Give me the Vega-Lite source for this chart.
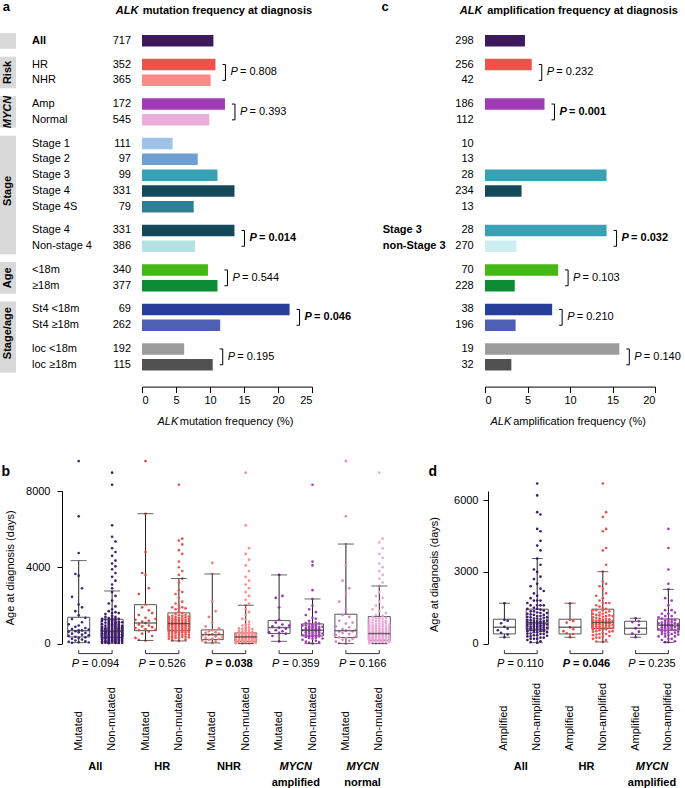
{
"$schema":"https://vega.github.io/schema/vega-lite/v6.json",
"background":"white",
"padding":{"left":0,"top":0,"right":0,"bottom":0},
"spacing":32,
"bounds":"full",
"resolve":{"scale":{"color":"independent"}},
"config":{"view":{"stroke":null},"font":"Liberation Sans",
"axis":{"labelFont":"Liberation Sans","titleFont":"Liberation Sans","labelFontSize":11,"titleFontSize":11,"labelColor":"#000","titleColor":"#000","domainColor":"#000","tickColor":"#000","grid":false,"titleFontWeight":"normal"},
"text":{"font":"Liberation Sans","fontSize":11,"color":"#000"}},
"datasets":{
"gray":[{"grp":"","from":"_0","to":"_2","mid":"r01"},{"grp":"Risk","from":"_3","to":"_7","mid":"_5"},{"grp":"MYCN","from":"_8","to":"_12","mid":"_10"},{"grp":"Stage","from":"_13","to":"_28","mid":"r09"},{"grp":"Age","from":"_29","to":"_33","mid":"_31"},{"grp":"Stage/age","from":"_34","to":"_43","mid":"_38"}],
"rows_a":[{"k":"r01","name":"All","n":717,"f":10.5},
{"k":"r02","name":"HR","n":352,"f":10.8,"pair":"risk","to":"r03","p":0.808,"sig":0},
{"k":"r03","name":"NHR","n":365,"f":10.1,"pair":"risk"},
{"k":"r04","name":"Amp","n":172,"f":12.2,"pair":"mycn","to":"r05","p":0.393,"sig":0},
{"k":"r05","name":"Normal","n":545,"f":9.9,"pair":"mycn"},
{"k":"r06","name":"Stage 1","n":111,"f":4.5},
{"k":"r07","name":"Stage 2","n":97,"f":8.2},
{"k":"r08","name":"Stage 3","n":99,"f":11.1},
{"k":"r09","name":"Stage 4","n":331,"f":13.6},
{"k":"r10","name":"Stage 4S","n":79,"f":7.6},
{"k":"r11","name":"Stage 4","n":331,"f":13.6,"pair":"st4","to":"r12","p":0.014,"sig":1},
{"k":"r12","name":"Non-stage 4","n":386,"f":7.8,"pair":"st4"},
{"k":"r13","name":"<18m","n":340,"f":9.7,"pair":"age","to":"r14","p":0.544,"sig":0},
{"k":"r14","name":"≥18m","n":377,"f":11.1,"pair":"age"},
{"k":"r15","name":"St4 <18m","n":69,"f":21.7,"pair":"st4age","to":"r16","p":0.046,"sig":1},
{"k":"r16","name":"St4 ≥18m","n":262,"f":11.5,"pair":"st4age"},
{"k":"r17","name":"loc <18m","n":192,"f":6.2,"pair":"loc","to":"r18","p":0.195,"sig":0},
{"k":"r18","name":"loc ≥18m","n":115,"f":10.4,"pair":"loc"}],
"rows_c":[{"k":"r01","name":"","n":298,"f":4.7},
{"k":"r02","name":"","n":256,"f":5.5,"pair":"risk","to":"r03","p":0.232,"sig":0},
{"k":"r03","name":"","n":42,"f":0,"pair":"risk"},
{"k":"r04","name":"","n":186,"f":7.0,"pair":"mycn","to":"r05","p":0.001,"sig":1},
{"k":"r05","name":"","n":112,"f":0,"pair":"mycn"},
{"k":"r06","name":"","n":10,"f":0},
{"k":"r07","name":"","n":13,"f":0},
{"k":"r08","name":"","n":28,"f":14.3},
{"k":"r09","name":"","n":234,"f":4.3},
{"k":"r10","name":"","n":13,"f":0},
{"k":"r11","name":"Stage 3","n":28,"f":14.3,"pair":"s3","to":"r12","p":0.032,"sig":1},
{"k":"r12","name":"non-Stage 3","n":270,"f":3.7,"pair":"s3"},
{"k":"r13","name":"","n":70,"f":8.6,"pair":"age","to":"r14","p":0.103,"sig":0},
{"k":"r14","name":"","n":228,"f":3.5,"pair":"age"},
{"k":"r15","name":"","n":38,"f":7.9,"pair":"st4age","to":"r16","p":0.210,"sig":0},
{"k":"r16","name":"","n":196,"f":3.6,"pair":"st4age"},
{"k":"r17","name":"","n":19,"f":15.8,"pair":"loc","to":"r18","p":0.140,"sig":0},
{"k":"r18","name":"","n":32,"f":3.1,"pair":"loc"}],
"box_b":[{"k":"AM","lo":50,"q1":350,"med":680,"q3":1380,"hi":4350},
{"k":"AN","lo":20,"q1":330,"med":650,"q3":1275,"hi":2760},
{"k":"HM","lo":160,"q1":680,"med":1080,"q3":2040,"hi":6810},
{"k":"HN","lo":140,"q1":680,"med":1050,"q3":1610,"hi":3410},
{"k":"NM","lo":35,"q1":210,"med":470,"q3":720,"hi":3650},
{"k":"NN","lo":0,"q1":120,"med":350,"q3":560,"hi":2010},
{"k":"YM","lo":120,"q1":525,"med":840,"q3":1205,"hi":3600},
{"k":"YN","lo":0,"q1":400,"med":700,"q3":1030,"hi":2340},
{"k":"ZM","lo":0,"q1":315,"med":680,"q3":1540,"hi":5220},
{"k":"ZN","lo":0,"q1":175,"med":525,"q3":1415,"hi":3020}],
"cmp_b":[{"k1":"AM","k2":"AN","p":0.094,"sig":0,"g1":"All","g2":""},
{"k1":"HM","k2":"HN","p":0.526,"sig":0,"g1":"HR","g2":""},
{"k1":"NM","k2":"NN","p":0.038,"sig":1,"g1":"NHR","g2":""},
{"k1":"YM","k2":"YN","p":0.359,"sig":0,"g1":"MYCN","g2":"amplified"},
{"k1":"ZM","k2":"ZN","p":0.166,"sig":0,"g1":"MYCN","g2":"normal"}],
"box_d":[{"k":"AA","lo":265,"q1":405,"med":685,"q3":1020,"hi":1690},
{"k":"AN","lo":40,"q1":570,"med":865,"q3":1440,"hi":3560},
{"k":"HA","lo":265,"q1":405,"med":685,"q3":1020,"hi":1690},
{"k":"HN","lo":70,"q1":630,"med":880,"q3":1440,"hi":3010},
{"k":"YA","lo":265,"q1":390,"med":640,"q3":935,"hi":1060},
{"k":"YN","lo":55,"q1":560,"med":770,"q3":1030,"hi":2270}],
"cmp_d":[{"k1":"AA","k2":"AN","p":0.110,"sig":0,"g1":"All","g2":""},
{"k1":"HA","k2":"HN","p":0.046,"sig":1,"g1":"HR","g2":""},
{"k1":"YA","k2":"YN","p":0.235,"sig":0,"g1":"MYCN","g2":"amplified"}],
"pts_b":[
{"k":"AM","l":1,"v":90},{"k":"AM","l":1,"v":410},{"k":"AM","l":1,"v":620},{"k":"AM","l":1,"v":1010},
{"k":"AM","l":2,"v":40},{"k":"AM","l":2,"v":250},{"k":"AM","l":2,"v":520},{"k":"AM","l":2,"v":760},{"k":"AM","l":2,"v":1290},{"k":"AM","l":2,"v":2450},
{"k":"AM","l":3,"v":160},{"k":"AM","l":3,"v":360},{"k":"AM","l":3,"v":650},{"k":"AM","l":3,"v":880},{"k":"AM","l":3,"v":1700},{"k":"AM","l":3,"v":3650},
{"k":"AM","l":4,"v":70},{"k":"AM","l":4,"v":300},{"k":"AM","l":4,"v":590},{"k":"AM","l":4,"v":700},{"k":"AM","l":4,"v":950},{"k":"AM","l":4,"v":1480},{"k":"AM","l":4,"v":2050},{"k":"AM","l":4,"v":3560},{"k":"AM","l":4,"v":4750},{"k":"AM","l":4,"v":6670},{"k":"AM","l":4,"v":9570},
{"k":"AM","l":5,"v":210},{"k":"AM","l":5,"v":470},{"k":"AM","l":5,"v":690},{"k":"AM","l":5,"v":1120},{"k":"AM","l":5,"v":1900},{"k":"AM","l":5,"v":2900},
{"k":"AM","l":6,"v":120},{"k":"AM","l":6,"v":330},{"k":"AM","l":6,"v":560},{"k":"AM","l":6,"v":820},{"k":"AM","l":6,"v":1350},
{"k":"AM","l":7,"v":60},{"k":"AM","l":7,"v":440},{"k":"AM","l":7,"v":730},
{"k":"AN","l":1,"v":30},{"k":"AN","l":1,"v":120},{"k":"AN","l":1,"v":210},{"k":"AN","l":1,"v":330},{"k":"AN","l":1,"v":420},{"k":"AN","l":1,"v":540},{"k":"AN","l":1,"v":640},{"k":"AN","l":1,"v":760},{"k":"AN","l":1,"v":880},{"k":"AN","l":1,"v":1020},{"k":"AN","l":1,"v":1180},
{"k":"AN","l":2,"v":60},{"k":"AN","l":2,"v":150},{"k":"AN","l":2,"v":250},{"k":"AN","l":2,"v":360},{"k":"AN","l":2,"v":470},{"k":"AN","l":2,"v":580},{"k":"AN","l":2,"v":690},{"k":"AN","l":2,"v":810},{"k":"AN","l":2,"v":940},{"k":"AN","l":2,"v":1100},{"k":"AN","l":2,"v":1260},{"k":"AN","l":2,"v":1550},
{"k":"AN","l":3,"v":20},{"k":"AN","l":3,"v":100},{"k":"AN","l":3,"v":190},{"k":"AN","l":3,"v":290},{"k":"AN","l":3,"v":390},{"k":"AN","l":3,"v":500},{"k":"AN","l":3,"v":610},{"k":"AN","l":3,"v":720},{"k":"AN","l":3,"v":850},{"k":"AN","l":3,"v":990},{"k":"AN","l":3,"v":1150},{"k":"AN","l":3,"v":1340},{"k":"AN","l":3,"v":1700},{"k":"AN","l":3,"v":2100},
{"k":"AN","l":4,"v":80},{"k":"AN","l":4,"v":170},{"k":"AN","l":4,"v":270},{"k":"AN","l":4,"v":370},{"k":"AN","l":4,"v":480},{"k":"AN","l":4,"v":600},{"k":"AN","l":4,"v":700},{"k":"AN","l":4,"v":820},{"k":"AN","l":4,"v":960},{"k":"AN","l":4,"v":1080},{"k":"AN","l":4,"v":1230},{"k":"AN","l":4,"v":1450},{"k":"AN","l":4,"v":1800},{"k":"AN","l":4,"v":2250},{"k":"AN","l":4,"v":2700},{"k":"AN","l":4,"v":2900},{"k":"AN","l":4,"v":3100},{"k":"AN","l":4,"v":3500},{"k":"AN","l":4,"v":3900},{"k":"AN","l":4,"v":4200},{"k":"AN","l":4,"v":4600},{"k":"AN","l":4,"v":5000},{"k":"AN","l":4,"v":5600},{"k":"AN","l":4,"v":6200},{"k":"AN","l":4,"v":8330},{"k":"AN","l":4,"v":8960},
{"k":"AN","l":5,"v":40},{"k":"AN","l":5,"v":140},{"k":"AN","l":5,"v":230},{"k":"AN","l":5,"v":340},{"k":"AN","l":5,"v":450},{"k":"AN","l":5,"v":560},{"k":"AN","l":5,"v":670},{"k":"AN","l":5,"v":790},{"k":"AN","l":5,"v":910},{"k":"AN","l":5,"v":1050},{"k":"AN","l":5,"v":1200},{"k":"AN","l":5,"v":1400},{"k":"AN","l":5,"v":1950},{"k":"AN","l":5,"v":2500},{"k":"AN","l":5,"v":3300},{"k":"AN","l":5,"v":3700},{"k":"AN","l":5,"v":4050},{"k":"AN","l":5,"v":4350},{"k":"AN","l":5,"v":4800},{"k":"AN","l":5,"v":5350},
{"k":"AN","l":6,"v":90},{"k":"AN","l":6,"v":180},{"k":"AN","l":6,"v":300},{"k":"AN","l":6,"v":400},{"k":"AN","l":6,"v":520},{"k":"AN","l":6,"v":630},{"k":"AN","l":6,"v":750},{"k":"AN","l":6,"v":870},{"k":"AN","l":6,"v":1000},{"k":"AN","l":6,"v":1160},{"k":"AN","l":6,"v":1300},{"k":"AN","l":6,"v":1600},
{"k":"AN","l":7,"v":50},{"k":"AN","l":7,"v":200},{"k":"AN","l":7,"v":350},{"k":"AN","l":7,"v":490},{"k":"AN","l":7,"v":620},{"k":"AN","l":7,"v":780},{"k":"AN","l":7,"v":930},{"k":"AN","l":7,"v":1120},
{"k":"AN","l":1,"v":80},{"k":"AN","l":1,"v":270},{"k":"AN","l":1,"v":480},{"k":"AN","l":1,"v":700},{"k":"AN","l":1,"v":820},{"k":"AN","l":1,"v":1300},
{"k":"AN","l":2,"v":100},{"k":"AN","l":2,"v":300},{"k":"AN","l":2,"v":420},{"k":"AN","l":2,"v":530},{"k":"AN","l":2,"v":640},{"k":"AN","l":2,"v":760},{"k":"AN","l":2,"v":1400},
{"k":"AN","l":3,"v":60},{"k":"AN","l":3,"v":150},{"k":"AN","l":3,"v":240},{"k":"AN","l":3,"v":340},{"k":"AN","l":3,"v":450},{"k":"AN","l":3,"v":560},{"k":"AN","l":3,"v":670},{"k":"AN","l":3,"v":790},{"k":"AN","l":3,"v":920},{"k":"AN","l":3,"v":1070},{"k":"AN","l":3,"v":1240},
{"k":"AN","l":4,"v":120},{"k":"AN","l":4,"v":220},{"k":"AN","l":4,"v":320},{"k":"AN","l":4,"v":430},{"k":"AN","l":4,"v":540},{"k":"AN","l":4,"v":650},{"k":"AN","l":4,"v":760},{"k":"AN","l":4,"v":890},{"k":"AN","l":4,"v":1020},{"k":"AN","l":4,"v":1160},{"k":"AN","l":4,"v":1330},{"k":"AN","l":4,"v":1600},
{"k":"AN","l":5,"v":90},{"k":"AN","l":5,"v":190},{"k":"AN","l":5,"v":290},{"k":"AN","l":5,"v":400},{"k":"AN","l":5,"v":510},{"k":"AN","l":5,"v":620},{"k":"AN","l":5,"v":730},{"k":"AN","l":5,"v":850},{"k":"AN","l":5,"v":980},{"k":"AN","l":5,"v":1120},{"k":"AN","l":5,"v":1300},{"k":"AN","l":5,"v":1650},
{"k":"AN","l":6,"v":30},{"k":"AN","l":6,"v":240},{"k":"AN","l":6,"v":350},{"k":"AN","l":6,"v":460},{"k":"AN","l":6,"v":580},{"k":"AN","l":6,"v":690},{"k":"AN","l":6,"v":810},{"k":"AN","l":6,"v":940},{"k":"AN","l":6,"v":1080},
{"k":"AN","l":7,"v":130},{"k":"AN","l":7,"v":280},{"k":"AN","l":7,"v":420},{"k":"AN","l":7,"v":560},{"k":"AN","l":7,"v":700},{"k":"AN","l":7,"v":860},
{"k":"HM","l":1,"v":300},{"k":"HM","l":1,"v":820},{"k":"HM","l":1,"v":1250},
{"k":"HM","l":2,"v":200},{"k":"HM","l":2,"v":700},{"k":"HM","l":2,"v":1000},{"k":"HM","l":2,"v":1500},{"k":"HM","l":2,"v":2600},
{"k":"HM","l":3,"v":520},{"k":"HM","l":3,"v":900},{"k":"HM","l":3,"v":1150},{"k":"HM","l":3,"v":1900},{"k":"HM","l":3,"v":3700},
{"k":"HM","l":4,"v":160},{"k":"HM","l":4,"v":760},{"k":"HM","l":4,"v":1080},{"k":"HM","l":4,"v":1350},{"k":"HM","l":4,"v":2050},{"k":"HM","l":4,"v":3600},{"k":"HM","l":4,"v":4800},{"k":"HM","l":4,"v":6810},{"k":"HM","l":4,"v":9570},
{"k":"HM","l":5,"v":640},{"k":"HM","l":5,"v":950},{"k":"HM","l":5,"v":1200},{"k":"HM","l":5,"v":1750},{"k":"HM","l":5,"v":2900},
{"k":"HM","l":6,"v":400},{"k":"HM","l":6,"v":860},{"k":"HM","l":6,"v":1600},
{"k":"HM","l":7,"v":720},{"k":"HM","l":7,"v":1300},
{"k":"HN","l":1,"v":250},{"k":"HN","l":1,"v":520},{"k":"HN","l":1,"v":740},{"k":"HN","l":1,"v":950},{"k":"HN","l":1,"v":1150},{"k":"HN","l":1,"v":1400},
{"k":"HN","l":2,"v":180},{"k":"HN","l":2,"v":400},{"k":"HN","l":2,"v":620},{"k":"HN","l":2,"v":830},{"k":"HN","l":2,"v":1020},{"k":"HN","l":2,"v":1220},{"k":"HN","l":2,"v":1460},{"k":"HN","l":2,"v":1900},
{"k":"HN","l":3,"v":300},{"k":"HN","l":3,"v":560},{"k":"HN","l":3,"v":700},{"k":"HN","l":3,"v":880},{"k":"HN","l":3,"v":1080},{"k":"HN","l":3,"v":1280},{"k":"HN","l":3,"v":1550},{"k":"HN","l":3,"v":2100},{"k":"HN","l":3,"v":2600},
{"k":"HN","l":4,"v":140},{"k":"HN","l":4,"v":460},{"k":"HN","l":4,"v":660},{"k":"HN","l":4,"v":780},{"k":"HN","l":4,"v":980},{"k":"HN","l":4,"v":1130},{"k":"HN","l":4,"v":1350},{"k":"HN","l":4,"v":1680},{"k":"HN","l":4,"v":2000},{"k":"HN","l":4,"v":2400},{"k":"HN","l":4,"v":2800},{"k":"HN","l":4,"v":3200},{"k":"HN","l":4,"v":3600},{"k":"HN","l":4,"v":4000},{"k":"HN","l":4,"v":4300},{"k":"HN","l":4,"v":4900},{"k":"HN","l":4,"v":5400},{"k":"HN","l":4,"v":8330},
{"k":"HN","l":5,"v":350},{"k":"HN","l":5,"v":590},{"k":"HN","l":5,"v":760},{"k":"HN","l":5,"v":920},{"k":"HN","l":5,"v":1100},{"k":"HN","l":5,"v":1320},{"k":"HN","l":5,"v":1600},{"k":"HN","l":5,"v":2200},{"k":"HN","l":5,"v":2700},{"k":"HN","l":5,"v":3410},{"k":"HN","l":5,"v":3800},{"k":"HN","l":5,"v":4700},{"k":"HN","l":5,"v":5200},{"k":"HN","l":5,"v":5500},
{"k":"HN","l":6,"v":220},{"k":"HN","l":6,"v":480},{"k":"HN","l":6,"v":690},{"k":"HN","l":6,"v":870},{"k":"HN","l":6,"v":1060},{"k":"HN","l":6,"v":1250},{"k":"HN","l":6,"v":1500},{"k":"HN","l":6,"v":1850},
{"k":"HN","l":7,"v":330},{"k":"HN","l":7,"v":610},{"k":"HN","l":7,"v":900},{"k":"HN","l":7,"v":1180},{"k":"HN","l":7,"v":1420},
{"k":"HN","l":1,"v":380},{"k":"HN","l":1,"v":640},{"k":"HN","l":1,"v":850},{"k":"HN","l":1,"v":1050},{"k":"HN","l":1,"v":1280},
{"k":"HN","l":2,"v":300},{"k":"HN","l":2,"v":520},{"k":"HN","l":2,"v":720},{"k":"HN","l":2,"v":930},{"k":"HN","l":2,"v":1120},{"k":"HN","l":2,"v":1330},
{"k":"HN","l":3,"v":420},{"k":"HN","l":3,"v":630},{"k":"HN","l":3,"v":790},{"k":"HN","l":3,"v":980},{"k":"HN","l":3,"v":1180},{"k":"HN","l":3,"v":1400},{"k":"HN","l":3,"v":1800},
{"k":"HN","l":4,"v":300},{"k":"HN","l":4,"v":560},{"k":"HN","l":4,"v":880},{"k":"HN","l":4,"v":1060},{"k":"HN","l":4,"v":1240},{"k":"HN","l":4,"v":1500},{"k":"HN","l":4,"v":1850},
{"k":"HN","l":5,"v":460},{"k":"HN","l":5,"v":680},{"k":"HN","l":5,"v":840},{"k":"HN","l":5,"v":1010},{"k":"HN","l":5,"v":1210},{"k":"HN","l":5,"v":1450},{"k":"HN","l":5,"v":1900},
{"k":"HN","l":6,"v":360},{"k":"HN","l":6,"v":590},{"k":"HN","l":6,"v":780},{"k":"HN","l":6,"v":960},{"k":"HN","l":6,"v":1150},{"k":"HN","l":6,"v":1380},
{"k":"HN","l":7,"v":470},{"k":"HN","l":7,"v":760},{"k":"HN","l":7,"v":1040},{"k":"HN","l":7,"v":1300},
{"k":"NM","l":1,"v":150},{"k":"NM","l":1,"v":420},
{"k":"NM","l":2,"v":80},{"k":"NM","l":2,"v":300},{"k":"NM","l":2,"v":560},{"k":"NM","l":2,"v":900},
{"k":"NM","l":3,"v":200},{"k":"NM","l":3,"v":460},{"k":"NM","l":3,"v":650},{"k":"NM","l":3,"v":1400},
{"k":"NM","l":4,"v":35},{"k":"NM","l":4,"v":260},{"k":"NM","l":4,"v":480},{"k":"NM","l":4,"v":700},{"k":"NM","l":4,"v":1100},{"k":"NM","l":4,"v":2200},{"k":"NM","l":4,"v":3650},{"k":"NM","l":4,"v":4230},
{"k":"NM","l":5,"v":120},{"k":"NM","l":5,"v":380},{"k":"NM","l":5,"v":600},{"k":"NM","l":5,"v":1700},
{"k":"NM","l":6,"v":240},{"k":"NM","l":6,"v":520},{"k":"NM","l":6,"v":800},
{"k":"NM","l":7,"v":330},
{"k":"NN","l":1,"v":20},{"k":"NN","l":1,"v":130},{"k":"NN","l":1,"v":250},{"k":"NN","l":1,"v":380},{"k":"NN","l":1,"v":520},
{"k":"NN","l":2,"v":60},{"k":"NN","l":2,"v":170},{"k":"NN","l":2,"v":290},{"k":"NN","l":2,"v":420},{"k":"NN","l":2,"v":580},{"k":"NN","l":2,"v":800},
{"k":"NN","l":3,"v":10},{"k":"NN","l":3,"v":110},{"k":"NN","l":3,"v":220},{"k":"NN","l":3,"v":340},{"k":"NN","l":3,"v":460},{"k":"NN","l":3,"v":640},{"k":"NN","l":3,"v":950},{"k":"NN","l":3,"v":1300},
{"k":"NN","l":4,"v":40},{"k":"NN","l":4,"v":150},{"k":"NN","l":4,"v":270},{"k":"NN","l":4,"v":360},{"k":"NN","l":4,"v":490},{"k":"NN","l":4,"v":700},{"k":"NN","l":4,"v":1000},{"k":"NN","l":4,"v":1250},{"k":"NN","l":4,"v":1500},{"k":"NN","l":4,"v":1800},{"k":"NN","l":4,"v":2010},{"k":"NN","l":4,"v":2300},{"k":"NN","l":4,"v":2700},{"k":"NN","l":4,"v":3100},{"k":"NN","l":4,"v":3500},{"k":"NN","l":4,"v":4100},{"k":"NN","l":4,"v":4700},{"k":"NN","l":4,"v":6200},{"k":"NN","l":4,"v":8960},
{"k":"NN","l":5,"v":80},{"k":"NN","l":5,"v":200},{"k":"NN","l":5,"v":310},{"k":"NN","l":5,"v":440},{"k":"NN","l":5,"v":600},{"k":"NN","l":5,"v":850},{"k":"NN","l":5,"v":1150},{"k":"NN","l":5,"v":1650},{"k":"NN","l":5,"v":2100},{"k":"NN","l":5,"v":2500},{"k":"NN","l":5,"v":2900},{"k":"NN","l":5,"v":3300},{"k":"NN","l":5,"v":3800},{"k":"NN","l":5,"v":4400},{"k":"NN","l":5,"v":5000},
{"k":"NN","l":6,"v":30},{"k":"NN","l":6,"v":140},{"k":"NN","l":6,"v":260},{"k":"NN","l":6,"v":400},{"k":"NN","l":6,"v":540},{"k":"NN","l":6,"v":760},
{"k":"NN","l":7,"v":90},{"k":"NN","l":7,"v":230},{"k":"NN","l":7,"v":350},{"k":"NN","l":7,"v":480},
{"k":"NN","l":1,"v":80},{"k":"NN","l":1,"v":190},{"k":"NN","l":1,"v":310},{"k":"NN","l":1,"v":450},
{"k":"NN","l":2,"v":110},{"k":"NN","l":2,"v":230},{"k":"NN","l":2,"v":350},{"k":"NN","l":2,"v":500},{"k":"NN","l":2,"v":680},
{"k":"NN","l":3,"v":50},{"k":"NN","l":3,"v":160},{"k":"NN","l":3,"v":280},{"k":"NN","l":3,"v":400},{"k":"NN","l":3,"v":540},{"k":"NN","l":3,"v":780},
{"k":"NN","l":4,"v":90},{"k":"NN","l":4,"v":210},{"k":"NN","l":4,"v":320},{"k":"NN","l":4,"v":430},{"k":"NN","l":4,"v":580},{"k":"NN","l":4,"v":850},
{"k":"NN","l":5,"v":20},{"k":"NN","l":5,"v":140},{"k":"NN","l":5,"v":260},{"k":"NN","l":5,"v":380},{"k":"NN","l":5,"v":520},{"k":"NN","l":5,"v":720},{"k":"NN","l":5,"v":1000},
{"k":"NN","l":6,"v":80},{"k":"NN","l":6,"v":200},{"k":"NN","l":6,"v":330},{"k":"NN","l":6,"v":470},{"k":"NN","l":6,"v":620},
{"k":"NN","l":7,"v":30},{"k":"NN","l":7,"v":160},{"k":"NN","l":7,"v":290},{"k":"NN","l":7,"v":420},
{"k":"YM","l":1,"v":600},
{"k":"YM","l":2,"v":400},{"k":"YM","l":2,"v":900},
{"k":"YM","l":3,"v":700},{"k":"YM","l":3,"v":1100},{"k":"YM","l":3,"v":2400},
{"k":"YM","l":4,"v":120},{"k":"YM","l":4,"v":560},{"k":"YM","l":4,"v":840},{"k":"YM","l":4,"v":1250},{"k":"YM","l":4,"v":1900},{"k":"YM","l":4,"v":3600},
{"k":"YM","l":5,"v":650},{"k":"YM","l":5,"v":1000},{"k":"YM","l":5,"v":2500},
{"k":"YM","l":6,"v":520},{"k":"YM","l":6,"v":780},
{"k":"YM","l":7,"v":950},
{"k":"YN","l":1,"v":200},{"k":"YN","l":1,"v":450},{"k":"YN","l":1,"v":700},{"k":"YN","l":1,"v":950},
{"k":"YN","l":2,"v":100},{"k":"YN","l":2,"v":350},{"k":"YN","l":2,"v":600},{"k":"YN","l":2,"v":820},{"k":"YN","l":2,"v":1080},{"k":"YN","l":2,"v":1500},
{"k":"YN","l":3,"v":50},{"k":"YN","l":3,"v":300},{"k":"YN","l":3,"v":520},{"k":"YN","l":3,"v":740},{"k":"YN","l":3,"v":900},{"k":"YN","l":3,"v":1200},{"k":"YN","l":3,"v":1800},
{"k":"YN","l":4,"v":10},{"k":"YN","l":4,"v":250},{"k":"YN","l":4,"v":480},{"k":"YN","l":4,"v":680},{"k":"YN","l":4,"v":860},{"k":"YN","l":4,"v":1000},{"k":"YN","l":4,"v":1350},{"k":"YN","l":4,"v":2000},{"k":"YN","l":4,"v":2340},{"k":"YN","l":4,"v":2800},{"k":"YN","l":4,"v":4100},{"k":"YN","l":4,"v":4300},{"k":"YN","l":4,"v":8330},
{"k":"YN","l":5,"v":150},{"k":"YN","l":5,"v":420},{"k":"YN","l":5,"v":640},{"k":"YN","l":5,"v":790},{"k":"YN","l":5,"v":960},{"k":"YN","l":5,"v":1300},{"k":"YN","l":5,"v":1650},
{"k":"YN","l":6,"v":80},{"k":"YN","l":6,"v":380},{"k":"YN","l":6,"v":580},{"k":"YN","l":6,"v":760},{"k":"YN","l":6,"v":1050},
{"k":"YN","l":7,"v":270},{"k":"YN","l":7,"v":530},{"k":"YN","l":7,"v":880},
{"k":"YN","l":2,"v":480},{"k":"YN","l":2,"v":720},{"k":"YN","l":2,"v":950},
{"k":"YN","l":3,"v":400},{"k":"YN","l":3,"v":620},{"k":"YN","l":3,"v":830},{"k":"YN","l":3,"v":1050},
{"k":"YN","l":4,"v":380},{"k":"YN","l":4,"v":580},{"k":"YN","l":4,"v":780},{"k":"YN","l":4,"v":930},
{"k":"YN","l":5,"v":300},{"k":"YN","l":5,"v":530},{"k":"YN","l":5,"v":720},{"k":"YN","l":5,"v":880},{"k":"YN","l":5,"v":1100},
{"k":"YN","l":6,"v":480},{"k":"YN","l":6,"v":680},{"k":"YN","l":6,"v":880},
{"k":"ZM","l":1,"v":100},{"k":"ZM","l":1,"v":450},{"k":"ZM","l":1,"v":900},
{"k":"ZM","l":2,"v":30},{"k":"ZM","l":2,"v":330},{"k":"ZM","l":2,"v":620},{"k":"ZM","l":2,"v":1200},{"k":"ZM","l":2,"v":2200},
{"k":"ZM","l":3,"v":200},{"k":"ZM","l":3,"v":560},{"k":"ZM","l":3,"v":760},{"k":"ZM","l":3,"v":1500},{"k":"ZM","l":3,"v":3300},
{"k":"ZM","l":4,"v":0},{"k":"ZM","l":4,"v":290},{"k":"ZM","l":4,"v":680},{"k":"ZM","l":4,"v":1050},{"k":"ZM","l":4,"v":1800},{"k":"ZM","l":4,"v":2600},{"k":"ZM","l":4,"v":4100},{"k":"ZM","l":4,"v":5220},{"k":"ZM","l":4,"v":6670},{"k":"ZM","l":4,"v":9570},
{"k":"ZM","l":5,"v":150},{"k":"ZM","l":5,"v":500},{"k":"ZM","l":5,"v":850},{"k":"ZM","l":5,"v":1400},{"k":"ZM","l":5,"v":2900},
{"k":"ZM","l":6,"v":250},{"k":"ZM","l":6,"v":640},{"k":"ZM","l":6,"v":1100},
{"k":"ZM","l":7,"v":380},{"k":"ZM","l":7,"v":720},
{"k":"ZN","l":1,"v":20},{"k":"ZN","l":1,"v":140},{"k":"ZN","l":1,"v":280},{"k":"ZN","l":1,"v":430},{"k":"ZN","l":1,"v":580},{"k":"ZN","l":1,"v":760},{"k":"ZN","l":1,"v":980},{"k":"ZN","l":1,"v":1250},
{"k":"ZN","l":2,"v":60},{"k":"ZN","l":2,"v":190},{"k":"ZN","l":2,"v":330},{"k":"ZN","l":2,"v":480},{"k":"ZN","l":2,"v":650},{"k":"ZN","l":2,"v":850},{"k":"ZN","l":2,"v":1100},{"k":"ZN","l":2,"v":1400},{"k":"ZN","l":2,"v":1800},
{"k":"ZN","l":3,"v":10},{"k":"ZN","l":3,"v":110},{"k":"ZN","l":3,"v":240},{"k":"ZN","l":3,"v":380},{"k":"ZN","l":3,"v":530},{"k":"ZN","l":3,"v":700},{"k":"ZN","l":3,"v":920},{"k":"ZN","l":3,"v":1180},{"k":"ZN","l":3,"v":1500},{"k":"ZN","l":3,"v":2000},{"k":"ZN","l":3,"v":2500},
{"k":"ZN","l":4,"v":40},{"k":"ZN","l":4,"v":170},{"k":"ZN","l":4,"v":300},{"k":"ZN","l":4,"v":450},{"k":"ZN","l":4,"v":600},{"k":"ZN","l":4,"v":800},{"k":"ZN","l":4,"v":1050},{"k":"ZN","l":4,"v":1320},{"k":"ZN","l":4,"v":1700},{"k":"ZN","l":4,"v":2200},{"k":"ZN","l":4,"v":2700},{"k":"ZN","l":4,"v":3020},{"k":"ZN","l":4,"v":3400},{"k":"ZN","l":4,"v":3800},{"k":"ZN","l":4,"v":4200},{"k":"ZN","l":4,"v":4700},{"k":"ZN","l":4,"v":5300},{"k":"ZN","l":4,"v":8960},
{"k":"ZN","l":5,"v":80},{"k":"ZN","l":5,"v":220},{"k":"ZN","l":5,"v":360},{"k":"ZN","l":5,"v":510},{"k":"ZN","l":5,"v":680},{"k":"ZN","l":5,"v":900},{"k":"ZN","l":5,"v":1150},{"k":"ZN","l":5,"v":1450},{"k":"ZN","l":5,"v":1900},{"k":"ZN","l":5,"v":2400},{"k":"ZN","l":5,"v":3200},{"k":"ZN","l":5,"v":3600},{"k":"ZN","l":5,"v":4000},{"k":"ZN","l":5,"v":4500},{"k":"ZN","l":5,"v":5000},{"k":"ZN","l":5,"v":5500},
{"k":"ZN","l":6,"v":30},{"k":"ZN","l":6,"v":160},{"k":"ZN","l":6,"v":310},{"k":"ZN","l":6,"v":460},{"k":"ZN","l":6,"v":620},{"k":"ZN","l":6,"v":820},{"k":"ZN","l":6,"v":1080},{"k":"ZN","l":6,"v":1350},{"k":"ZN","l":6,"v":1600},
{"k":"ZN","l":7,"v":90},{"k":"ZN","l":7,"v":250},{"k":"ZN","l":7,"v":400},{"k":"ZN","l":7,"v":560},{"k":"ZN","l":7,"v":740},{"k":"ZN","l":7,"v":1000},
{"k":"ZN","l":1,"v":80},{"k":"ZN","l":1,"v":210},{"k":"ZN","l":1,"v":350},{"k":"ZN","l":1,"v":500},{"k":"ZN","l":1,"v":670},{"k":"ZN","l":1,"v":870},{"k":"ZN","l":1,"v":1100},
{"k":"ZN","l":2,"v":120},{"k":"ZN","l":2,"v":260},{"k":"ZN","l":2,"v":400},{"k":"ZN","l":2,"v":560},{"k":"ZN","l":2,"v":750},{"k":"ZN","l":2,"v":960},{"k":"ZN","l":2,"v":1250},
{"k":"ZN","l":3,"v":60},{"k":"ZN","l":3,"v":170},{"k":"ZN","l":3,"v":310},{"k":"ZN","l":3,"v":450},{"k":"ZN","l":3,"v":610},{"k":"ZN","l":3,"v":800},{"k":"ZN","l":3,"v":1040},{"k":"ZN","l":3,"v":1330},
{"k":"ZN","l":4,"v":110},{"k":"ZN","l":4,"v":230},{"k":"ZN","l":4,"v":370},{"k":"ZN","l":4,"v":520},{"k":"ZN","l":4,"v":700},{"k":"ZN","l":4,"v":920},{"k":"ZN","l":4,"v":1180},
{"k":"ZN","l":5,"v":20},{"k":"ZN","l":5,"v":150},{"k":"ZN","l":5,"v":290},{"k":"ZN","l":5,"v":430},{"k":"ZN","l":5,"v":590},{"k":"ZN","l":5,"v":780},{"k":"ZN","l":5,"v":1020},{"k":"ZN","l":5,"v":1300},
{"k":"ZN","l":6,"v":90},{"k":"ZN","l":6,"v":230},{"k":"ZN","l":6,"v":380},{"k":"ZN","l":6,"v":540},{"k":"ZN","l":6,"v":720},{"k":"ZN","l":6,"v":950},{"k":"ZN","l":6,"v":1200},
{"k":"ZN","l":7,"v":170},{"k":"ZN","l":7,"v":320},{"k":"ZN","l":7,"v":480},{"k":"ZN","l":7,"v":650},{"k":"ZN","l":7,"v":860}],
"pts_d":[
{"k":"AA","l":2,"v":560},{"k":"AA","l":3,"v":450},{"k":"AA","l":3,"v":850},{"k":"AA","l":4,"v":265},{"k":"AA","l":4,"v":700},{"k":"AA","l":4,"v":1000},{"k":"AA","l":4,"v":1690},{"k":"AA","l":5,"v":380},{"k":"AA","l":5,"v":620},{"k":"AA","l":5,"v":960},
{"k":"AN","l":1,"v":150},{"k":"AN","l":1,"v":420},{"k":"AN","l":1,"v":620},{"k":"AN","l":1,"v":800},{"k":"AN","l":1,"v":1000},{"k":"AN","l":1,"v":1250},{"k":"AN","l":1,"v":1700},
{"k":"AN","l":2,"v":60},{"k":"AN","l":2,"v":300},{"k":"AN","l":2,"v":560},{"k":"AN","l":2,"v":700},{"k":"AN","l":2,"v":880},{"k":"AN","l":2,"v":1100},{"k":"AN","l":2,"v":1350},{"k":"AN","l":2,"v":1900},{"k":"AN","l":2,"v":2400},
{"k":"AN","l":3,"v":200},{"k":"AN","l":3,"v":480},{"k":"AN","l":3,"v":640},{"k":"AN","l":3,"v":780},{"k":"AN","l":3,"v":950},{"k":"AN","l":3,"v":1200},{"k":"AN","l":3,"v":1500},{"k":"AN","l":3,"v":2100},{"k":"AN","l":3,"v":2700},{"k":"AN","l":3,"v":3100},
{"k":"AN","l":4,"v":40},{"k":"AN","l":4,"v":350},{"k":"AN","l":4,"v":590},{"k":"AN","l":4,"v":720},{"k":"AN","l":4,"v":865},{"k":"AN","l":4,"v":1050},{"k":"AN","l":4,"v":1300},{"k":"AN","l":4,"v":1600},{"k":"AN","l":4,"v":2000},{"k":"AN","l":4,"v":2500},{"k":"AN","l":4,"v":3000},{"k":"AN","l":4,"v":3560},{"k":"AN","l":4,"v":4100},{"k":"AN","l":4,"v":4800},{"k":"AN","l":4,"v":5500},{"k":"AN","l":4,"v":6200},{"k":"AN","l":4,"v":6700},
{"k":"AN","l":5,"v":100},{"k":"AN","l":5,"v":400},{"k":"AN","l":5,"v":610},{"k":"AN","l":5,"v":760},{"k":"AN","l":5,"v":920},{"k":"AN","l":5,"v":1150},{"k":"AN","l":5,"v":1420},{"k":"AN","l":5,"v":1800},{"k":"AN","l":5,"v":2300},{"k":"AN","l":5,"v":2800},{"k":"AN","l":5,"v":3300},{"k":"AN","l":5,"v":3900},{"k":"AN","l":5,"v":4300},{"k":"AN","l":5,"v":4700},{"k":"AN","l":5,"v":5400},
{"k":"AN","l":6,"v":250},{"k":"AN","l":6,"v":520},{"k":"AN","l":6,"v":680},{"k":"AN","l":6,"v":850},{"k":"AN","l":6,"v":1080},{"k":"AN","l":6,"v":1380},{"k":"AN","l":6,"v":2200},
{"k":"AN","l":7,"v":330},{"k":"AN","l":7,"v":660},{"k":"AN","l":7,"v":960},{"k":"AN","l":7,"v":1280},
{"k":"AN","l":1,"v":300},{"k":"AN","l":1,"v":520},{"k":"AN","l":1,"v":720},{"k":"AN","l":1,"v":900},{"k":"AN","l":1,"v":1120},{"k":"AN","l":1,"v":1450},
{"k":"AN","l":2,"v":200},{"k":"AN","l":2,"v":420},{"k":"AN","l":2,"v":640},{"k":"AN","l":2,"v":800},{"k":"AN","l":2,"v":980},{"k":"AN","l":2,"v":1220},{"k":"AN","l":2,"v":1600},
{"k":"AN","l":3,"v":350},{"k":"AN","l":3,"v":560},{"k":"AN","l":3,"v":720},{"k":"AN","l":3,"v":870},{"k":"AN","l":3,"v":1050},{"k":"AN","l":3,"v":1350},{"k":"AN","l":3,"v":1800},
{"k":"AN","l":4,"v":200},{"k":"AN","l":4,"v":480},{"k":"AN","l":4,"v":660},{"k":"AN","l":4,"v":800},{"k":"AN","l":4,"v":950},{"k":"AN","l":4,"v":1150},{"k":"AN","l":4,"v":1450},{"k":"AN","l":4,"v":1800},
{"k":"AN","l":5,"v":250},{"k":"AN","l":5,"v":520},{"k":"AN","l":5,"v":690},{"k":"AN","l":5,"v":850},{"k":"AN","l":5,"v":1030},{"k":"AN","l":5,"v":1280},{"k":"AN","l":5,"v":1600},
{"k":"AN","l":6,"v":400},{"k":"AN","l":6,"v":600},{"k":"AN","l":6,"v":770},{"k":"AN","l":6,"v":950},{"k":"AN","l":6,"v":1200},{"k":"AN","l":6,"v":1600},
{"k":"AN","l":7,"v":480},{"k":"AN","l":7,"v":800},{"k":"AN","l":7,"v":1100},
{"k":"HA","l":2,"v":520},{"k":"HA","l":3,"v":430},{"k":"HA","l":3,"v":880},{"k":"HA","l":4,"v":265},{"k":"HA","l":4,"v":680},{"k":"HA","l":4,"v":1000},{"k":"HA","l":4,"v":1690},{"k":"HA","l":5,"v":400},{"k":"HA","l":5,"v":600},{"k":"HA","l":5,"v":950},
{"k":"HN","l":1,"v":200},{"k":"HN","l":1,"v":500},{"k":"HN","l":1,"v":700},{"k":"HN","l":1,"v":880},{"k":"HN","l":1,"v":1100},{"k":"HN","l":1,"v":1400},
{"k":"HN","l":2,"v":90},{"k":"HN","l":2,"v":380},{"k":"HN","l":2,"v":640},{"k":"HN","l":2,"v":800},{"k":"HN","l":2,"v":960},{"k":"HN","l":2,"v":1200},{"k":"HN","l":2,"v":1600},{"k":"HN","l":2,"v":2000},
{"k":"HN","l":3,"v":250},{"k":"HN","l":3,"v":560},{"k":"HN","l":3,"v":720},{"k":"HN","l":3,"v":900},{"k":"HN","l":3,"v":1050},{"k":"HN","l":3,"v":1300},{"k":"HN","l":3,"v":1800},{"k":"HN","l":3,"v":2400},
{"k":"HN","l":4,"v":70},{"k":"HN","l":4,"v":450},{"k":"HN","l":4,"v":680},{"k":"HN","l":4,"v":880},{"k":"HN","l":4,"v":1000},{"k":"HN","l":4,"v":1250},{"k":"HN","l":4,"v":1500},{"k":"HN","l":4,"v":1900},{"k":"HN","l":4,"v":2300},{"k":"HN","l":4,"v":2600},{"k":"HN","l":4,"v":3010},{"k":"HN","l":4,"v":3900},{"k":"HN","l":4,"v":4700},{"k":"HN","l":4,"v":5300},{"k":"HN","l":4,"v":6700},
{"k":"HN","l":5,"v":150},{"k":"HN","l":5,"v":600},{"k":"HN","l":5,"v":760},{"k":"HN","l":5,"v":940},{"k":"HN","l":5,"v":1150},{"k":"HN","l":5,"v":1450},{"k":"HN","l":5,"v":2100},{"k":"HN","l":5,"v":2500},{"k":"HN","l":5,"v":3300},{"k":"HN","l":5,"v":4000},{"k":"HN","l":5,"v":4800},{"k":"HN","l":5,"v":5500},
{"k":"HN","l":6,"v":320},{"k":"HN","l":6,"v":660},{"k":"HN","l":6,"v":840},{"k":"HN","l":6,"v":1020},{"k":"HN","l":6,"v":1350},{"k":"HN","l":6,"v":1700},
{"k":"HN","l":7,"v":520},{"k":"HN","l":7,"v":780},{"k":"HN","l":7,"v":1150},
{"k":"HN","l":1,"v":350},{"k":"HN","l":1,"v":600},{"k":"HN","l":1,"v":790},{"k":"HN","l":1,"v":980},{"k":"HN","l":1,"v":1250},
{"k":"HN","l":2,"v":250},{"k":"HN","l":2,"v":520},{"k":"HN","l":2,"v":720},{"k":"HN","l":2,"v":880},{"k":"HN","l":2,"v":1080},{"k":"HN","l":2,"v":1400},
{"k":"HN","l":3,"v":400},{"k":"HN","l":3,"v":640},{"k":"HN","l":3,"v":810},{"k":"HN","l":3,"v":980},{"k":"HN","l":3,"v":1180},{"k":"HN","l":3,"v":1550},
{"k":"HN","l":4,"v":300},{"k":"HN","l":4,"v":580},{"k":"HN","l":4,"v":780},{"k":"HN","l":4,"v":940},{"k":"HN","l":4,"v":1120},{"k":"HN","l":4,"v":1380},{"k":"HN","l":4,"v":1700},
{"k":"HN","l":5,"v":400},{"k":"HN","l":5,"v":680},{"k":"HN","l":5,"v":850},{"k":"HN","l":5,"v":1040},{"k":"HN","l":5,"v":1300},{"k":"HN","l":5,"v":1700},
{"k":"HN","l":6,"v":500},{"k":"HN","l":6,"v":750},{"k":"HN","l":6,"v":930},{"k":"HN","l":6,"v":1180},
{"k":"HN","l":7,"v":650},{"k":"HN","l":7,"v":950},
{"k":"YA","l":3,"v":420},{"k":"YA","l":3,"v":900},{"k":"YA","l":4,"v":265},{"k":"YA","l":4,"v":640},{"k":"YA","l":4,"v":1060},{"k":"YA","l":5,"v":500},{"k":"YA","l":5,"v":780},{"k":"YA","l":5,"v":935},
{"k":"YN","l":1,"v":300},{"k":"YN","l":1,"v":600},{"k":"YN","l":1,"v":850},{"k":"YN","l":1,"v":1100},
{"k":"YN","l":2,"v":150},{"k":"YN","l":2,"v":500},{"k":"YN","l":2,"v":680},{"k":"YN","l":2,"v":880},{"k":"YN","l":2,"v":1250},
{"k":"YN","l":3,"v":60},{"k":"YN","l":3,"v":420},{"k":"YN","l":3,"v":640},{"k":"YN","l":3,"v":780},{"k":"YN","l":3,"v":960},{"k":"YN","l":3,"v":1400},{"k":"YN","l":3,"v":1900},
{"k":"YN","l":4,"v":55},{"k":"YN","l":4,"v":350},{"k":"YN","l":4,"v":560},{"k":"YN","l":4,"v":740},{"k":"YN","l":4,"v":860},{"k":"YN","l":4,"v":1030},{"k":"YN","l":4,"v":1600},{"k":"YN","l":4,"v":2270},{"k":"YN","l":4,"v":2500},{"k":"YN","l":4,"v":3100},{"k":"YN","l":4,"v":4000},{"k":"YN","l":4,"v":4800},
{"k":"YN","l":5,"v":200},{"k":"YN","l":5,"v":580},{"k":"YN","l":5,"v":720},{"k":"YN","l":5,"v":900},{"k":"YN","l":5,"v":1150},{"k":"YN","l":5,"v":1800},
{"k":"YN","l":6,"v":100},{"k":"YN","l":6,"v":460},{"k":"YN","l":6,"v":700},{"k":"YN","l":6,"v":980},{"k":"YN","l":6,"v":1300},
{"k":"YN","l":7,"v":380},{"k":"YN","l":7,"v":620},{"k":"YN","l":7,"v":820},
{"k":"YN","l":2,"v":400},{"k":"YN","l":2,"v":600},{"k":"YN","l":2,"v":780},{"k":"YN","l":2,"v":1050},
{"k":"YN","l":3,"v":300},{"k":"YN","l":3,"v":540},{"k":"YN","l":3,"v":710},{"k":"YN","l":3,"v":870},{"k":"YN","l":3,"v":1150},
{"k":"YN","l":4,"v":200},{"k":"YN","l":4,"v":460},{"k":"YN","l":4,"v":650},{"k":"YN","l":4,"v":800},{"k":"YN","l":4,"v":950},{"k":"YN","l":4,"v":1250},
{"k":"YN","l":5,"v":400},{"k":"YN","l":5,"v":650},{"k":"YN","l":5,"v":800},{"k":"YN","l":5,"v":1000},{"k":"YN","l":5,"v":1400},
{"k":"YN","l":6,"v":300},{"k":"YN","l":6,"v":580},{"k":"YN","l":6,"v":850},
{"k":"YN","l":7,"v":500},{"k":"YN","l":7,"v":720}]
},
"vconcat":[
{"hconcat":[
{"width":16,"height":347.6,"data":{"name":"gray"},
 "layer":[
  {"mark":{"type":"rule","strokeWidth":16,"color":"#d9d9d9"},
   "encoding":{"y":{"field":"from","type":"nominal","scale":{"domain":["_0","r01","_2","_3","r02","_5","r03","_7","_8","r04","_10","r05","_12","_13","r06","_15","r07","_17","r08","_19","r09","_21","r10","_23","_24","r11","_26","r12","_28","_29","r13","_31","r14","_33","_34","r15","_36","r16","_38","_39","r17","_41","r18","_43"],"paddingInner":0,"paddingOuter":0},"axis":null},
    "y2":{"field":"to"}}},
  {"mark":{"type":"text","angle":270,"fontWeight":"bold","align":"center","baseline":"middle","fontStyle":{"expr":"datum.grp==='MYCN' ? 'italic' : 'normal'"}},
   "encoding":{"y":{"field":"mid","type":"nominal","axis":null},
    "text":{"field":"grp","type":"nominal"}}}
 ]},
{"width":125.7,"height":1,"data":{"values":[]},"mark":"point","encoding":{}},
{"width":170,"height":347.6,"data":{"name":"rows_a"},
 "transform":[{"joinaggregate":[{"op":"max","field":"f","as":"pm"}],"groupby":["pair"]}],
 "layer":[
  {"mark":{"type":"bar","size":11.5},
   "encoding":{
    "x":{"field":"f","type":"quantitative","scale":{"domain":[0,25],"nice":false},"axis":{"orient":"bottom","values":[0,5,10,15,20,25],"offset":10,"tickSize":6,"labelPadding":2,"title":"mutation frequency (%)","titleX":37.3,"titleY":38.3,"titleAngle":0,"titleAlign":"left","titleBaseline":"alphabetic"}},
    "y":{"field":"k","type":"nominal","scale":{"domain":["_0","r01","_2","_3","r02","_5","r03","_7","_8","r04","_10","r05","_12","_13","r06","_15","r07","_17","r08","_19","r09","_21","r10","_23","_24","r11","_26","r12","_28","_29","r13","_31","r14","_33","_34","r15","_36","r16","_38","_39","r17","_41","r18","_43"],"paddingInner":0,"paddingOuter":0},"axis":{"orient":"left","labels":false,"ticks":false,"domain":false,"title":"mutation frequency at diagnosis","titleX":0.3,"titleY":-15.7,"titleAngle":0,"titleAlign":"left","titleBaseline":"alphabetic","titleFontWeight":"bold"}},
    "color":{"field":"k","type":"nominal","scale":{"domain":["r01","r02","r03","r04","r05","r06","r07","r08","r09","r10","r11","r12","r13","r14","r15","r16","r17","r18"],"range":["#3d1a5b","#f0514b","#fd8a89","#a03bb6","#ebaedb","#9fc3e8","#6f9fd2","#3aa0b3","#124a5c","#2c7f95","#124a5c","#b3e2e3","#46b816","#0d8c36","#253f9b","#4f5fb4","#9c9c9c","#515151"]},"legend":null}}},
  {"mark":{"type":"text","align":"right","baseline":"middle","dx":-11},
   "encoding":{
    "x":{"datum":0,"type":"quantitative","axis":{"orient":"bottom","offset":10,"labels":false,"ticks":false,"domain":false,"title":"ALK","titleX":15,"titleY":38.3,"titleAngle":0,"titleAlign":"left","titleBaseline":"alphabetic","titleFontStyle":"italic"}},
    "y":{"field":"k","type":"nominal","axis":{"orient":"left","labels":false,"ticks":false,"domain":false,"title":"ALK","titleX":-26.7,"titleY":-15.7,"titleAngle":0,"titleAlign":"left","titleBaseline":"alphabetic","titleFontWeight":"bold","titleFontStyle":"italic"}},
    "text":{"field":"n","type":"nominal"}}},
  {"mark":{"type":"text","align":"left","baseline":"middle","dx":-110,"fontWeight":{"expr":"datum.k==='r01' ? 'bold' : 'normal'"}},
   "encoding":{"x":{"datum":0,"type":"quantitative","axis":null},"y":{"field":"k","type":"nominal","axis":{"orient":"left","labels":false,"ticks":false,"domain":false,"title":"a","titleX":-139.7,"titleY":-19,"titleAngle":0,"titleAlign":"left","titleBaseline":"alphabetic","titleFontSize":13,"titleFontWeight":"bold"}},"text":{"field":"name","type":"nominal"}}},
  {"transform":[{"filter":"isValid(datum.pair)"}],"mark":{"type":"rule","xOffset":7,"x2Offset":10,"color":"#000"},
   "encoding":{"x":{"field":"pm","type":"quantitative","axis":null},"x2":{"field":"pm"},"y":{"field":"k","type":"nominal","axis":null}}},
  {"transform":[{"filter":"isValid(datum.to)"}],"mark":{"type":"rule","xOffset":10,"color":"#000"},
   "encoding":{"x":{"field":"pm","type":"quantitative","axis":null},"y":{"field":"k","type":"nominal","axis":null},"y2":{"field":"to"}}},
  {"transform":[{"filter":"isValid(datum.to)"}],"mark":{"type":"text","text":"P","align":"left","baseline":"middle","dx":15,"yOffset":7.9,"fontStyle":"italic","fontWeight":{"expr":"datum.sig===1 ? 'bold' : 'normal'"}},
   "encoding":{"x":{"field":"pm","type":"quantitative","axis":null},"y":{"field":"k","type":"nominal","axis":null}}},
  {"transform":[{"filter":"isValid(datum.to)"}],"mark":{"type":"text","text":"=","align":"left","baseline":"middle","dx":24.5,"yOffset":7.9,"fontWeight":{"expr":"datum.sig===1 ? 'bold' : 'normal'"}},
   "encoding":{"x":{"field":"pm","type":"quantitative","axis":null},"y":{"field":"k","type":"nominal","axis":null}}},
  {"transform":[{"filter":"isValid(datum.to)"}],"mark":{"type":"text","align":"left","baseline":"middle","dx":34,"yOffset":7.9,"fontWeight":{"expr":"datum.sig===1 ? 'bold' : 'normal'"}},
   "encoding":{"x":{"field":"pm","type":"quantitative","axis":null},"y":{"field":"k","type":"nominal","axis":null},"text":{"field":"p","type":"quantitative","format":".3f"}}}
 ],
 "resolve":{"axis":{"x":"independent","y":"independent"}}},
{"width":172.3,"height":1,"data":{"values":[]},"mark":"point","encoding":{}},
{"width":170,"height":347.6,"data":{"name":"rows_c"},
 "transform":[{"joinaggregate":[{"op":"max","field":"f","as":"pm"}],"groupby":["pair"]}],
 "layer":[
  {"mark":{"type":"bar","size":11.5},
   "encoding":{
    "x":{"field":"f","type":"quantitative","scale":{"domain":[0,20],"nice":false},"axis":{"orient":"bottom","values":[0,5,10,15,20],"offset":10,"tickSize":6,"labelPadding":2,"title":"amplification frequency (%)","titleX":27.7,"titleY":38.3,"titleAngle":0,"titleAlign":"left","titleBaseline":"alphabetic"}},
    "y":{"field":"k","type":"nominal","scale":{"domain":["_0","r01","_2","_3","r02","_5","r03","_7","_8","r04","_10","r05","_12","_13","r06","_15","r07","_17","r08","_19","r09","_21","r10","_23","_24","r11","_26","r12","_28","_29","r13","_31","r14","_33","_34","r15","_36","r16","_38","_39","r17","_41","r18","_43"],"paddingInner":0,"paddingOuter":0},"axis":{"orient":"left","labels":false,"ticks":false,"domain":false,"title":"amplification frequency at diagnosis","titleX":1.7,"titleY":-15.7,"titleAngle":0,"titleAlign":"left","titleBaseline":"alphabetic","titleFontWeight":"bold"}},
    "color":{"field":"k","type":"nominal","scale":{"domain":["r01","r02","r03","r04","r05","r06","r07","r08","r09","r10","r11","r12","r13","r14","r15","r16","r17","r18"],"range":["#3d1a5b","#f0514b","#fd8a89","#a03bb6","#ebaedb","#9fc3e8","#6f9fd2","#3aa0b3","#124a5c","#2c7f95","#3aa0b3","#cdeeee","#46b816","#0d8c36","#253f9b","#4f5fb4","#9c9c9c","#515151"]},"legend":null}}},
  {"mark":{"type":"text","align":"right","baseline":"middle","dx":-11.3},
   "encoding":{
    "x":{"datum":0,"type":"quantitative","axis":{"orient":"bottom","offset":10,"labels":false,"ticks":false,"domain":false,"title":"ALK","titleX":5,"titleY":38.3,"titleAngle":0,"titleAlign":"left","titleBaseline":"alphabetic","titleFontStyle":"italic"}},
    "y":{"field":"k","type":"nominal","axis":{"orient":"left","labels":false,"ticks":false,"domain":false,"title":"ALK","titleX":-25.7,"titleY":-15.7,"titleAngle":0,"titleAlign":"left","titleBaseline":"alphabetic","titleFontWeight":"bold","titleFontStyle":"italic"}},
    "text":{"field":"n","type":"nominal"}}},
  {"mark":{"type":"text","align":"left","baseline":"middle","dx":-102.3,"fontWeight":"bold"},
   "encoding":{"x":{"datum":0,"type":"quantitative","axis":null},"y":{"field":"k","type":"nominal","axis":{"orient":"left","labels":false,"ticks":false,"domain":false,"title":"c","titleX":-104,"titleY":-19,"titleAngle":0,"titleAlign":"left","titleBaseline":"alphabetic","titleFontSize":13,"titleFontWeight":"bold"}},"text":{"field":"name","type":"nominal"}}},
  {"transform":[{"filter":"isValid(datum.pair)"}],"mark":{"type":"rule","xOffset":7,"x2Offset":10,"color":"#000"},
   "encoding":{"x":{"field":"pm","type":"quantitative","axis":null},"x2":{"field":"pm"},"y":{"field":"k","type":"nominal","axis":null}}},
  {"transform":[{"filter":"isValid(datum.to)"}],"mark":{"type":"rule","xOffset":10,"color":"#000"},
   "encoding":{"x":{"field":"pm","type":"quantitative","axis":null},"y":{"field":"k","type":"nominal","axis":null},"y2":{"field":"to"}}},
  {"transform":[{"filter":"isValid(datum.to)"}],"mark":{"type":"text","text":"P","align":"left","baseline":"middle","dx":15,"yOffset":7.9,"fontStyle":"italic","fontWeight":{"expr":"datum.sig===1 ? 'bold' : 'normal'"}},
   "encoding":{"x":{"field":"pm","type":"quantitative","axis":null},"y":{"field":"k","type":"nominal","axis":null}}},
  {"transform":[{"filter":"isValid(datum.to)"}],"mark":{"type":"text","text":"=","align":"left","baseline":"middle","dx":24.5,"yOffset":7.9,"fontWeight":{"expr":"datum.sig===1 ? 'bold' : 'normal'"}},
   "encoding":{"x":{"field":"pm","type":"quantitative","axis":null},"y":{"field":"k","type":"nominal","axis":null}}},
  {"transform":[{"filter":"isValid(datum.to)"}],"mark":{"type":"text","align":"left","baseline":"middle","dx":34,"yOffset":7.9,"fontWeight":{"expr":"datum.sig===1 ? 'bold' : 'normal'"}},
   "encoding":{"x":{"field":"pm","type":"quantitative","axis":null},"y":{"field":"k","type":"nominal","axis":null},"text":{"field":"p","type":"quantitative","format":".3f"}}}
 ],
 "resolve":{"axis":{"x":"independent","y":"independent"}}}
],"spacing":0,"bounds":"flush","resolve":{"scale":{"color":"independent"}}},
{"hconcat":[
{"width":62,"height":1,"data":{"values":[]},"mark":"point","encoding":{}},
{"width":334,"height":152.6,
 "layer":[
  {"data":{"name":"box_b"},"mark":{"type":"rule","color":"#222"},
   "encoding":{
    "x":{"field":"k","type":"nominal","scale":{"domain":["AM","AN","HM","HN","NM","NN","YM","YN","ZM","ZN"],"paddingInner":0,"paddingOuter":0},"axis":{"orient":"bottom","domain":false,"ticks":false,"tickSize":0,"labelAngle":270,"labelAlign":"left","labelBaseline":"middle","labelPadding":106.7,"labelExpr":"slice(datum.value,-1)==='M' ? 'Mutated' : 'Non-mutated'","title":"b","titleX":-61,"titleY":-168.3,"titleAngle":0,"titleAlign":"left","titleBaseline":"alphabetic","titleFontSize":14,"titleFontWeight":"bold"}},
    "y":{"field":"lo","type":"quantitative","scale":{"domain":[0,8000],"nice":false},"axis":{"orient":"left","values":[0,4000,8000],"format":"d","tickSize":5,"labelPadding":7,"title":"Age at diagnosis (days)","titleX":-52,"titleY":76.3,"titleAngle":270,"titleAlign":"center","titleBaseline":"middle"}},
    "y2":{"field":"hi"}}},
  {"data":{"name":"box_b"},"mark":{"type":"bar","size":22,"fill":"white","stroke":"#555","strokeWidth":1},
   "encoding":{"x":{"field":"k","type":"nominal","axis":null},"y":{"field":"q1","type":"quantitative","axis":null},"y2":{"field":"q3"}}},
  {"data":{"name":"pts_b"},"transform":[{"filter":"datum.l===1"}],"mark":{"type":"circle","size":7,"opacity":1},
   "encoding":{"x":{"field":"k","type":"nominal","bandPosition":0.2,"axis":null},"y":{"field":"v","type":"quantitative","axis":null},
    "color":{"field":"k","type":"nominal","scale":{"domain":["AM","AN","HM","HN","NM","NN","YM","YN","ZM","ZN"],"range":["#3b2a7a","#3d1c6b","#e8473f","#f0524d","#f47a78","#fb8c8a","#8e2fa8","#a13bb8","#d985c4","#eaa6d6"]},"legend":null}}},
  {"data":{"name":"pts_b"},"transform":[{"filter":"datum.l===2"}],"mark":{"type":"circle","size":7,"opacity":1},
   "encoding":{"x":{"field":"k","type":"nominal","bandPosition":0.3,"axis":null},"y":{"field":"v","type":"quantitative","axis":null},"color":{"field":"k","type":"nominal","legend":null}}},
  {"data":{"name":"pts_b"},"transform":[{"filter":"datum.l===3"}],"mark":{"type":"circle","size":7,"opacity":1},
   "encoding":{"x":{"field":"k","type":"nominal","bandPosition":0.4,"axis":null},"y":{"field":"v","type":"quantitative","axis":null},"color":{"field":"k","type":"nominal","legend":null}}},
  {"data":{"name":"pts_b"},"transform":[{"filter":"datum.l===4"}],"mark":{"type":"circle","size":7,"opacity":1},
   "encoding":{"x":{"field":"k","type":"nominal","bandPosition":0.5,"axis":null},"y":{"field":"v","type":"quantitative","axis":null},"color":{"field":"k","type":"nominal","legend":null}}},
  {"data":{"name":"pts_b"},"transform":[{"filter":"datum.l===5"}],"mark":{"type":"circle","size":7,"opacity":1},
   "encoding":{"x":{"field":"k","type":"nominal","bandPosition":0.6,"axis":null},"y":{"field":"v","type":"quantitative","axis":null},"color":{"field":"k","type":"nominal","legend":null}}},
  {"data":{"name":"pts_b"},"transform":[{"filter":"datum.l===6"}],"mark":{"type":"circle","size":7,"opacity":1},
   "encoding":{"x":{"field":"k","type":"nominal","bandPosition":0.7,"axis":null},"y":{"field":"v","type":"quantitative","axis":null},"color":{"field":"k","type":"nominal","legend":null}}},
  {"data":{"name":"pts_b"},"transform":[{"filter":"datum.l===7"}],"mark":{"type":"circle","size":7,"opacity":1},
   "encoding":{"x":{"field":"k","type":"nominal","bandPosition":0.8,"axis":null},"y":{"field":"v","type":"quantitative","axis":null},"color":{"field":"k","type":"nominal","legend":null}}},
  {"data":{"name":"box_b"},"mark":{"type":"tick","size":22,"thickness":1.5,"color":"#333"},
   "encoding":{"x":{"field":"k","type":"nominal","axis":null},"y":{"field":"med","type":"quantitative","axis":null}}},
  {"data":{"name":"box_b"},"mark":{"type":"tick","size":16,"thickness":1,"color":"#222"},
   "encoding":{"x":{"field":"k","type":"nominal","axis":null},"y":{"field":"hi","type":"quantitative","axis":null}}},
  {"data":{"name":"box_b"},"mark":{"type":"tick","size":16,"thickness":1,"color":"#222"},
   "encoding":{"x":{"field":"k","type":"nominal","axis":null},"y":{"field":"lo","type":"quantitative","axis":null}}},
  {"data":{"name":"cmp_b"},"mark":{"type":"rule","color":"#333","yOffset":10},
   "encoding":{"x":{"field":"k1","type":"nominal","axis":null},"x2":{"field":"k2"},"y":{"datum":0,"type":"quantitative","axis":null}}},
  {"data":{"name":"cmp_b"},"mark":{"type":"rule","color":"#333","yOffset":6.5,"y2Offset":10},
   "encoding":{"x":{"field":"k1","type":"nominal","axis":null},"y":{"datum":0,"type":"quantitative","axis":null},"y2":{"datum":0}}},
  {"data":{"name":"cmp_b"},"mark":{"type":"rule","color":"#333","yOffset":6.5,"y2Offset":10},
   "encoding":{"x":{"field":"k2","type":"nominal","axis":null},"y":{"datum":0,"type":"quantitative","axis":null},"y2":{"datum":0}}},
  {"data":{"name":"cmp_b"},"mark":{"type":"text","text":"P","align":"left","baseline":"middle","dx":-23.7,"yOffset":20.5,"fontStyle":"italic","fontWeight":{"expr":"datum.sig===1 ? 'bold' : 'normal'"}},
   "encoding":{"x":{"field":"k1","type":"nominal","bandPosition":1,"axis":null},"y":{"datum":0,"type":"quantitative","axis":null}}},
  {"data":{"name":"cmp_b"},"mark":{"type":"text","text":"=","align":"left","baseline":"middle","dx":-13.3,"yOffset":20.5,"fontWeight":{"expr":"datum.sig===1 ? 'bold' : 'normal'"}},
   "encoding":{"x":{"field":"k1","type":"nominal","bandPosition":1,"axis":null},"y":{"datum":0,"type":"quantitative","axis":null}}},
  {"data":{"name":"cmp_b"},"mark":{"type":"text","align":"left","baseline":"middle","dx":-3.8,"yOffset":20.5,"fontWeight":{"expr":"datum.sig===1 ? 'bold' : 'normal'"}},
   "encoding":{"x":{"field":"k1","type":"nominal","bandPosition":1,"axis":null},"y":{"datum":0,"type":"quantitative","axis":null},"text":{"field":"p","type":"quantitative","format":".3f"}}},
  {"data":{"name":"cmp_b"},"mark":{"type":"text","align":"center","baseline":"middle","yOffset":123,"fontWeight":"bold","fontStyle":{"expr":"datum.g1==='MYCN' ? 'italic' : 'normal'"}},
   "encoding":{"x":{"field":"k1","type":"nominal","bandPosition":1,"axis":null},"y":{"datum":0,"type":"quantitative","axis":null},"text":{"field":"g1","type":"nominal"}}},
  {"data":{"name":"cmp_b"},"mark":{"type":"text","align":"center","baseline":"middle","yOffset":139.5,"fontWeight":"bold"},
   "encoding":{"x":{"field":"k1","type":"nominal","bandPosition":1,"axis":null},"y":{"datum":0,"type":"quantitative","axis":null},"text":{"field":"g2","type":"nominal"}}}
 ],
 "resolve":{"axis":{"x":"independent","y":"independent"}}},
{"width":91.7,"height":1,"data":{"values":[]},"mark":"point","encoding":{}},
{"width":196.8,"height":152.6,
 "layer":[
  {"data":{"name":"box_d"},"mark":{"type":"rule","color":"#222"},
   "encoding":{
    "x":{"field":"k","type":"nominal","scale":{"domain":["AA","AN","HA","HN","YA","YN"],"paddingInner":0,"paddingOuter":0},"axis":{"orient":"bottom","domain":false,"ticks":false,"tickSize":0,"labelAngle":270,"labelAlign":"left","labelBaseline":"middle","labelPadding":106.7,"labelExpr":"slice(datum.value,-1)==='A' ? 'Amplified' : 'Non-amplified'","title":"d","titleX":-60,"titleY":-168.3,"titleAngle":0,"titleAlign":"left","titleBaseline":"alphabetic","titleFontSize":14,"titleFontWeight":"bold"}},
    "y":{"field":"lo","type":"quantitative","scale":{"domain":[0,6385],"nice":false},"axis":{"orient":"left","values":[0,3000,6000],"format":"d","tickSize":5,"labelPadding":5,"title":"Age at diagnosis (days)","titleX":-53.7,"titleY":83,"titleAngle":270,"titleAlign":"center","titleBaseline":"middle"}},
    "y2":{"field":"hi"}}},
  {"data":{"name":"box_d"},"mark":{"type":"bar","size":22,"fill":"white","stroke":"#555","strokeWidth":1},
   "encoding":{"x":{"field":"k","type":"nominal","axis":null},"y":{"field":"q1","type":"quantitative","axis":null},"y2":{"field":"q3"}}},
  {"data":{"name":"pts_d"},"transform":[{"filter":"datum.l===1"}],"mark":{"type":"circle","size":7,"opacity":1},
   "encoding":{"x":{"field":"k","type":"nominal","bandPosition":0.2,"axis":null},"y":{"field":"v","type":"quantitative","axis":null},
    "color":{"field":"k","type":"nominal","scale":{"domain":["AA","AN","HA","HN","YA","YN"],"range":["#3b2a7a","#3d1c6b","#e8473f","#f0524d","#8e2fa8","#a13bb8"]},"legend":null}}},
  {"data":{"name":"pts_d"},"transform":[{"filter":"datum.l===2"}],"mark":{"type":"circle","size":7,"opacity":1},
   "encoding":{"x":{"field":"k","type":"nominal","bandPosition":0.3,"axis":null},"y":{"field":"v","type":"quantitative","axis":null},"color":{"field":"k","type":"nominal","legend":null}}},
  {"data":{"name":"pts_d"},"transform":[{"filter":"datum.l===3"}],"mark":{"type":"circle","size":7,"opacity":1},
   "encoding":{"x":{"field":"k","type":"nominal","bandPosition":0.4,"axis":null},"y":{"field":"v","type":"quantitative","axis":null},"color":{"field":"k","type":"nominal","legend":null}}},
  {"data":{"name":"pts_d"},"transform":[{"filter":"datum.l===4"}],"mark":{"type":"circle","size":7,"opacity":1},
   "encoding":{"x":{"field":"k","type":"nominal","bandPosition":0.5,"axis":null},"y":{"field":"v","type":"quantitative","axis":null},"color":{"field":"k","type":"nominal","legend":null}}},
  {"data":{"name":"pts_d"},"transform":[{"filter":"datum.l===5"}],"mark":{"type":"circle","size":7,"opacity":1},
   "encoding":{"x":{"field":"k","type":"nominal","bandPosition":0.6,"axis":null},"y":{"field":"v","type":"quantitative","axis":null},"color":{"field":"k","type":"nominal","legend":null}}},
  {"data":{"name":"pts_d"},"transform":[{"filter":"datum.l===6"}],"mark":{"type":"circle","size":7,"opacity":1},
   "encoding":{"x":{"field":"k","type":"nominal","bandPosition":0.7,"axis":null},"y":{"field":"v","type":"quantitative","axis":null},"color":{"field":"k","type":"nominal","legend":null}}},
  {"data":{"name":"pts_d"},"transform":[{"filter":"datum.l===7"}],"mark":{"type":"circle","size":7,"opacity":1},
   "encoding":{"x":{"field":"k","type":"nominal","bandPosition":0.8,"axis":null},"y":{"field":"v","type":"quantitative","axis":null},"color":{"field":"k","type":"nominal","legend":null}}},
  {"data":{"name":"box_d"},"mark":{"type":"tick","size":22,"thickness":1.5,"color":"#333"},
   "encoding":{"x":{"field":"k","type":"nominal","axis":null},"y":{"field":"med","type":"quantitative","axis":null}}},
  {"data":{"name":"box_d"},"mark":{"type":"tick","size":11,"thickness":1,"color":"#222"},
   "encoding":{"x":{"field":"k","type":"nominal","axis":null},"y":{"field":"hi","type":"quantitative","axis":null}}},
  {"data":{"name":"box_d"},"mark":{"type":"tick","size":11,"thickness":1,"color":"#222"},
   "encoding":{"x":{"field":"k","type":"nominal","axis":null},"y":{"field":"lo","type":"quantitative","axis":null}}},
  {"data":{"name":"cmp_d"},"mark":{"type":"rule","color":"#333","yOffset":10},
   "encoding":{"x":{"field":"k1","type":"nominal","axis":null},"x2":{"field":"k2"},"y":{"datum":0,"type":"quantitative","axis":null}}},
  {"data":{"name":"cmp_d"},"mark":{"type":"rule","color":"#333","yOffset":6.5,"y2Offset":10},
   "encoding":{"x":{"field":"k1","type":"nominal","axis":null},"y":{"datum":0,"type":"quantitative","axis":null},"y2":{"datum":0}}},
  {"data":{"name":"cmp_d"},"mark":{"type":"rule","color":"#333","yOffset":6.5,"y2Offset":10},
   "encoding":{"x":{"field":"k2","type":"nominal","axis":null},"y":{"datum":0,"type":"quantitative","axis":null},"y2":{"datum":0}}},
  {"data":{"name":"cmp_d"},"mark":{"type":"text","text":"P","align":"left","baseline":"middle","dx":-23.7,"yOffset":20.5,"fontStyle":"italic","fontWeight":{"expr":"datum.sig===1 ? 'bold' : 'normal'"}},
   "encoding":{"x":{"field":"k1","type":"nominal","bandPosition":1,"axis":null},"y":{"datum":0,"type":"quantitative","axis":null}}},
  {"data":{"name":"cmp_d"},"mark":{"type":"text","text":"=","align":"left","baseline":"middle","dx":-13.3,"yOffset":20.5,"fontWeight":{"expr":"datum.sig===1 ? 'bold' : 'normal'"}},
   "encoding":{"x":{"field":"k1","type":"nominal","bandPosition":1,"axis":null},"y":{"datum":0,"type":"quantitative","axis":null}}},
  {"data":{"name":"cmp_d"},"mark":{"type":"text","align":"left","baseline":"middle","dx":-3.8,"yOffset":20.5,"fontWeight":{"expr":"datum.sig===1 ? 'bold' : 'normal'"}},
   "encoding":{"x":{"field":"k1","type":"nominal","bandPosition":1,"axis":null},"y":{"datum":0,"type":"quantitative","axis":null},"text":{"field":"p","type":"quantitative","format":".3f"}}},
  {"data":{"name":"cmp_d"},"mark":{"type":"text","align":"center","baseline":"middle","yOffset":123,"fontWeight":"bold","fontStyle":{"expr":"datum.g1==='MYCN' ? 'italic' : 'normal'"}},
   "encoding":{"x":{"field":"k1","type":"nominal","bandPosition":1,"axis":null},"y":{"datum":0,"type":"quantitative","axis":null},"text":{"field":"g1","type":"nominal"}}},
  {"data":{"name":"cmp_d"},"mark":{"type":"text","align":"center","baseline":"middle","yOffset":139.5,"fontWeight":"bold"},
   "encoding":{"x":{"field":"k1","type":"nominal","bandPosition":1,"axis":null},"y":{"datum":0,"type":"quantitative","axis":null},"text":{"field":"g2","type":"nominal"}}}
 ],
 "resolve":{"axis":{"x":"independent","y":"independent"}}}
],"spacing":0,"bounds":"flush","resolve":{"scale":{"color":"independent"}}}
]
}
